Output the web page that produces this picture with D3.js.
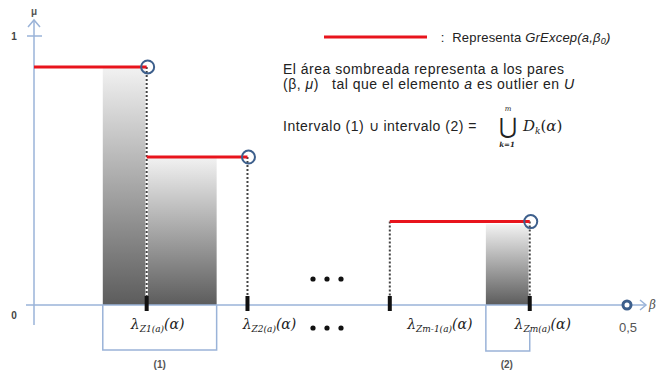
<!DOCTYPE html>
<html>
<head>
<meta charset="utf-8">
<script src="https://cdn.jsdelivr.net/npm/d3@7"></script>
<style>
  body { margin: 0; background: #fff; }
  svg { display: block; font-family: "Liberation Sans", Arial, sans-serif; }
  .lam { font-family: "DejaVu Serif", "Liberation Serif", serif; font-style: italic; }
  .note { font-size: 14px; letter-spacing: 0.5px; fill: #222; white-space: pre; }
</style>
</head>
<body>
<svg id="chart" width="656" height="372"></svg>
<script>
// thresholds lambda_Zk(a) on the beta axis
const lambdas = [0.095, 0.18, 0.30, 0.418];
const lambdaSubs = ['Z1(a)', 'Z2(a)', 'Zm-1(a)', 'Zm(a)'];
// red GrExcep segments: start beta, end beta, mu level
const segStart = [0, 0.095, 0.30];
const segEnd = [0.095, 0.18, 0.418];
const segMu = [0.885, 0.55, 0.31];
// shaded areas (beta from, beta to, mu)
const shadeFrom = [0.058, 0.095, 0.381];
const shadeTo = [0.095, 0.154, 0.418];
const shadeMu = [0.885, 0.55, 0.30];
// y ticks
const yTicks = [0, 1];

const axisColor = '#9ab3d8';
const ringColor = '#3d5f8c';

const svg = d3.select('#chart');

const x = d3.scaleLinear().domain([0, 0.5]).range([34, 627]);
const y = d3.scaleLinear().domain([0, 1]).range([305, 36]);

// gradient for the shaded areas
const defs = svg.append('defs');
const grad = defs.append('linearGradient')
    .attr('id', 'shade')
    .attr('x1', 0).attr('y1', 0).attr('x2', 0).attr('y2', 1);
grad.append('stop').attr('offset', '0%').attr('stop-color', '#f2f2f2');
grad.append('stop').attr('offset', '100%').attr('stop-color', '#5c5c5c');

const shades = shadeFrom.map((d, i) => ({ x0: d, x1: shadeTo[i], mu: shadeMu[i] }));
svg.selectAll('.shade')
    .data(shades)
  .enter().append('rect')
    .attr('class', 'shade')
    .attr('x', d => x(d.x0))
    .attr('y', d => y(d.mu))
    .attr('width', d => x(d.x1) - x(d.x0))
    .attr('height', d => y(0) - y(d.mu))
    .attr('fill', 'url(#shade)');

// brackets under the axis
const bracket = svg.append('g').attr('stroke', axisColor).attr('stroke-width', 1.5).attr('fill', 'none');
bracket.append('path')
    .attr('d', `M${x(shadeFrom[0])},${y(0)} V350 H${x(shadeTo[1])} V${y(0)}`);
bracket.append('path')
    .attr('d', `M${x(shadeFrom[2])},${y(0)} V351 H${x(shadeTo[2])} V330`);

svg.append('text').attr('x', (x(shadeFrom[0]) + x(shadeTo[1])) / 2).attr('y', 368)
    .attr('text-anchor', 'middle').attr('font-size', 10).attr('font-weight', 'bold').attr('fill', '#555')
    .text('(1)');
svg.append('text').attr('x', (x(shadeFrom[2]) + x(shadeTo[2])) / 2 - 1).attr('y', 368)
    .attr('text-anchor', 'middle').attr('font-size', 10).attr('font-weight', 'bold').attr('fill', '#555')
    .text('(2)');

// axes
const axes = svg.append('g').attr('stroke', axisColor).attr('stroke-width', 1.5).attr('fill', 'none');
axes.append('line').attr('x1', x(0)).attr('x2', x(0)).attr('y1', 325).attr('y2', 20);
axes.append('path').attr('d', `M${x(0) - 6},${27} L${x(0)},${20} L${x(0) + 6},${27}`);
axes.append('line').attr('x1', 26).attr('x2', 646).attr('y1', y(0)).attr('y2', y(0));
axes.append('path').attr('d', `M640,${y(0) - 5} L646,${y(0)} L640,${y(0) + 5}`);
axes.append('line').attr('x1', x(0) - 7).attr('x2', x(0) + 8).attr('y1', y(1)).attr('y2', y(1));

svg.selectAll('.ylab')
    .data(yTicks)
  .enter().append('text')
    .attr('class', 'ylab')
    .attr('x', 14)
    .attr('y', d => y(d) + (d === 0 ? 14 : 4))
    .attr('text-anchor', 'middle')
    .attr('font-size', 10)
    .attr('font-weight', 'bold')
    .attr('fill', '#444')
    .text(d => d);

svg.append('text').attr('x', x(0)).attr('y', 15).attr('text-anchor', 'middle')
    .attr('font-size', 10).attr('font-weight', 'bold').attr('fill', '#555').text('μ');

svg.append('circle').attr('cx', x(0.5)).attr('cy', y(0)).attr('r', 4)
    .attr('fill', '#fff').attr('stroke', ringColor).attr('stroke-width', 3);
svg.append('text').attr('x', x(0.5) + 1).attr('y', 332).attr('text-anchor', 'middle')
    .attr('font-size', 13).attr('fill', '#555').text('0,5');
svg.append('text').attr('x', 649).attr('y', y(0) + 4).attr('class', 'lam')
    .attr('font-size', 12).attr('fill', '#555').text('β');

// dashed drop lines
const drops = lambdas.map((d, i) => ({ b: d, mu: i < 2 ? segMu[i] : segMu[2] }));
svg.selectAll('.dropw')
    .data(drops)
  .enter().append('line')
    .attr('class', 'dropw')
    .attr('x1', d => x(d.b)).attr('x2', d => x(d.b))
    .attr('y1', d => y(d.mu)).attr('y2', y(0))
    .attr('stroke', '#fff').attr('stroke-width', 2.5);
svg.selectAll('.drop')
    .data(drops)
  .enter().append('line')
    .attr('class', 'drop')
    .attr('x1', d => x(d.b)).attr('x2', d => x(d.b))
    .attr('y1', d => y(d.mu)).attr('y2', y(0))
    .attr('stroke', '#444').attr('stroke-width', 2)
    .attr('stroke-dasharray', '2,2');

// red segments
const segs = segStart.map((d, i) => ({ x0: d, x1: segEnd[i], mu: segMu[i] }));
svg.selectAll('.seg')
    .data(segs)
  .enter().append('line')
    .attr('class', 'seg')
    .attr('x1', d => x(d.x0)).attr('x2', d => x(d.x1))
    .attr('y1', d => y(d.mu)).attr('y2', d => y(d.mu))
    .attr('stroke', '#e8141c').attr('stroke-width', 3);

// open circles at segment ends
svg.selectAll('.ring')
    .data(segs)
  .enter().append('circle')
    .attr('class', 'ring')
    .attr('cx', d => x(d.x1) + 1).attr('cy', d => y(d.mu))
    .attr('r', 6.5)
    .attr('fill', 'none').attr('stroke', ringColor).attr('stroke-width', 2);

// tick marks on the beta axis
svg.selectAll('.btick')
    .data(lambdas)
  .enter().append('line')
    .attr('class', 'btick')
    .attr('x1', d => x(d)).attr('x2', d => x(d))
    .attr('y1', y(0) - 9).attr('y2', y(0) + 6)
    .attr('stroke', '#111').attr('stroke-width', 4);

// lambda labels
const labOffset = [11, 22, 50, 13];
const labs = svg.selectAll('.lamlab')
    .data(lambdas)
  .enter().append('text')
    .attr('class', 'lam lamlab')
    .attr('x', (d, i) => x(d) + labOffset[i])
    .attr('y', 329)
    .attr('text-anchor', 'middle')
    .attr('fill', '#222')
    .attr('font-size', 14);
labs.append('tspan').text('λ');
labs.append('tspan').attr('font-size', 9).attr('dy', 3).text((d, i) => lambdaSubs[i]);
labs.append('tspan').attr('dy', -3).text('(α)');

// ellipsis dots
const dotRows = [279, 328];
svg.selectAll('.dotrow')
    .data(dotRows)
  .enter().append('g')
    .attr('class', 'dotrow')
    .selectAll('circle')
    .data(r => [313, 327, 341].map(cx => ({ cx, cy: r })))
  .enter().append('circle')
    .attr('cx', d => d.cx).attr('cy', d => d.cy).attr('r', 2.6).attr('fill', '#111');

// legend
svg.append('line').attr('x1', 324).attr('x2', 427).attr('y1', 37).attr('y2', 37)
    .attr('stroke', '#e8141c').attr('stroke-width', 3);
const leg = svg.append('text').attr('x', 437).attr('y', 42).attr('class', 'note').style('font-size', '13px').style('letter-spacing', '0.2px');
leg.append('tspan').text(' :  Representa ');
leg.append('tspan').attr('font-style', 'italic').text('GrExcep(a,β');
leg.append('tspan').attr('font-style', 'italic').attr('font-size', 9).attr('dy', 2).text('0');
leg.append('tspan').attr('font-style', 'italic').attr('dy', -2).text(')');

svg.append('text').attr('x', 283).attr('y', 74).attr('class', 'note')
    .text('El área sombreada representa a los pares');
const l2 = svg.append('text').attr('x', 283).attr('y', 89).attr('class', 'note');
l2.append('tspan').text('(β, ');
l2.append('tspan').attr('font-style', 'italic').text('μ');
l2.append('tspan').text(')   tal que el elemento ');
l2.append('tspan').attr('font-style', 'italic').text('a');
l2.append('tspan').text(' es outlier en ');
l2.append('tspan').attr('font-style', 'italic').text('U');

svg.append('text').attr('x', 283).attr('y', 131).attr('class', 'note')
    .text('Intervalo (1) ∪ intervalo (2) =');
svg.append('text').attr('x', 508).attr('y', 134).attr('text-anchor', 'middle')
    .attr('font-size', 22).attr('font-family', 'DejaVu Serif, serif').attr('fill', '#222').text('⋃');
svg.append('text').attr('x', 508).attr('y', 111).attr('text-anchor', 'middle').attr('class', 'lam')
    .attr('font-size', 7).attr('fill', '#222').text('m');
svg.append('text').attr('x', 507).attr('y', 147).attr('text-anchor', 'middle').attr('class', 'lam')
    .attr('font-size', 7).attr('font-weight', 'bold').attr('fill', '#222').text('k=1');
const dk = svg.append('text').attr('x', 523).attr('y', 131).attr('class', 'lam')
    .attr('font-size', 15).attr('fill', '#222');
dk.append('tspan').text('D');
dk.append('tspan').attr('font-size', 9).attr('dy', 3).text('k');
dk.append('tspan').attr('dy', -3).attr('font-style', 'normal').text('(');
dk.append('tspan').text('α');
dk.append('tspan').attr('font-style', 'normal').text(')');
</script>
</body>
</html>
